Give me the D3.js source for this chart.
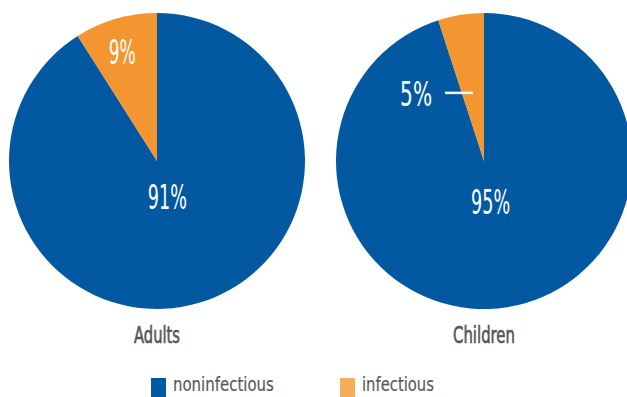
<!DOCTYPE html>
<html><head><meta charset="utf-8">
<script src="https://cdn.jsdelivr.net/npm/d3@7"></script>
<style>
body{margin:0;background:#fff;}
text{font-family:"Liberation Sans Narrow","DejaVu Sans Condensed","Liberation Sans",sans-serif;}
</style></head>
<body><svg id="c" width="627" height="397"></svg>
<script>
const groups = ["Adults", "Children"];
const categories = ["noninfectious", "infectious"];
const adultsValues = [91, 9];
const childrenValues = [95, 5];
const valueLabels = [["91%", "9%"], ["95%", "5%"]];

const svg = d3.select("#c");
const pieColors = d3.scaleOrdinal().domain(categories).range(["#0358a2", "#f39530"]);
const legendColors = d3.scaleOrdinal().domain(categories).range(["#0358a2", "#f6ad5c"]);
const R = 148;
const cx = d3.scalePoint().domain(groups).range([157, 484]);
const cy = 161;
const pie = d3.pie().sort(null).value(d => d.v).startAngle(0).endAngle(2 * Math.PI);
const arc = d3.arc().innerRadius(0).outerRadius(R);

function fitText(sel, w) {
  sel.each(function () {
    const len = this.getComputedTextLength();
    const x = +this.getAttribute("x"), y = +this.getAttribute("y");
    const s = w / len;
    this.setAttribute("transform", `translate(${x},${y}) scale(${s},1) translate(${-x},${-y})`);
  });
}

[adultsValues, childrenValues].forEach((vals, gi) => {
  const data = vals.map((v, i) => ({ c: categories[i], v: v, label: valueLabels[gi][i] }));
  const g = svg.append("g").attr("transform", `translate(${cx(groups[gi])},${cy})`);
  const arcs = pie(data);
  g.selectAll("path").data(arcs).join("path")
    .attr("d", arc).attr("fill", d => pieColors(d.data.c));

  const big = arcs[0];
  const bigPos = d3.arc().innerRadius(0).outerRadius(gi === 0 ? 74 : 84).centroid(big);
  const t1 = g.append("text").attr("x", bigPos[0]).attr("y", bigPos[1] + 12)
    .attr("text-anchor", "middle").attr("fill", "#fff").attr("font-size", 34)
    .text(big.data.label);
  fitText(t1, 39);

  const small = arcs[1];
  if (gi === 0) {
    const p = d3.arc().innerRadius(0).outerRadius(228).centroid(small);
    const t2 = g.append("text").attr("x", p[0] - 3).attr("y", p[1] + 12)
      .attr("text-anchor", "middle").attr("fill", "#fff").attr("font-size", 34)
      .text(small.data.label);
    fitText(t2, 27);
  } else {
    const p = d3.arc().innerRadius(0).outerRadius(140).centroid(small);
    g.append("line").attr("x1", p[0]).attr("y1", p[1] + 1).attr("x2", p[0] - 28).attr("y2", p[1] + 1)
      .attr("stroke", "#fff").attr("stroke-width", 2.5);
    const x = p[0] - 41, y = p[1] + 14;
    const t3 = g.append("text").attr("x", x).attr("y", y)
      .attr("text-anchor", "end").attr("fill", "#fff").attr("font-size", 34)
      .text(small.data.label);
    const len = t3.node().getComputedTextLength();
    t3.attr("transform", `translate(${x},${y}) scale(${32 / len},1) translate(${-x},${-y})`);
  }

  const title = svg.append("text").attr("x", cx(groups[gi])).attr("y", 343)
    .attr("text-anchor", "middle").attr("fill", "#555").attr("font-size", 23)
    .attr("stroke", "#555").attr("stroke-width", 0.6)
    .text(groups[gi]);
  fitText(title, gi === 0 ? 46 : 62);
});

const legendX = [151, 340];
const legendW = [101, 72];
categories.forEach((c, i) => {
  svg.append("rect").attr("x", legendX[i]).attr("y", 378).attr("width", 15).attr("height", 19)
    .attr("fill", legendColors(c));
  const t = svg.append("text").attr("x", legendX[i] + 22).attr("y", 391)
    .attr("fill", "#5a5a5a").attr("font-size", 20).attr("stroke", "#5a5a5a").attr("stroke-width", 0.2).text(c);
  fitText(t, legendW[i]);
});
</script></body></html>
